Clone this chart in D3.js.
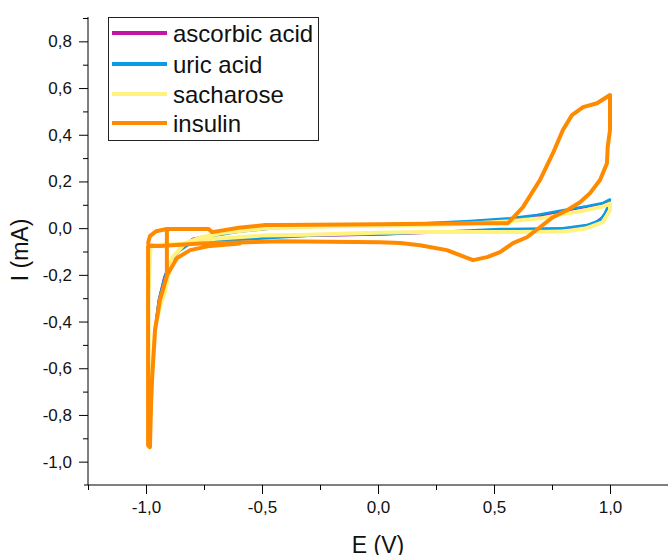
<!DOCTYPE html>
<html>
<head>
<meta charset="utf-8">
<script src="https://cdn.jsdelivr.net/npm/d3@7"></script>
<style>
  body { margin: 0; background: #fff; }
  svg { display: block; font-family: Arial, "Liberation Sans", sans-serif; }
</style>
</head>
<body>
<svg id="chart" width="668" height="555"></svg>
<script>
// Cyclic voltammograms, E (V) vs I (mA); each series is a list of path segments [[E, I], ...]
var seriesNames = ["ascorbic acid", "uric acid", "sacharose", "insulin"];
var seriesColors = ["#c414a4", "#0a9be4", "#fff27e", "#ff8a00"];

var ascorbicAcid = [
  [[-0.986, -0.94], [-0.976, -0.65], [-0.963, -0.44], [-0.946, -0.31], [-0.922, -0.21], [-0.897, -0.15],
   [-0.862, -0.1], [-0.8, -0.045], [-0.724, -0.03], [-0.6, -0.014], [-0.45, 0.0], [-0.2, 0.01],
   [0.1, 0.016], [0.4, 0.026], [0.6, 0.038], [0.7, 0.052], [0.8, 0.072], [0.9, 0.09], [0.97, 0.104], [1.0, 0.118],
   [0.99, 0.085], [0.97, 0.05], [0.93, 0.02], [0.85, 0.002], [0.6, -0.008], [0.3, -0.018], [0.0, -0.028],
   [-0.3, -0.034], [-0.543, -0.039], [-0.7, -0.05], [-0.85, -0.072], [-0.98, -0.075], [-0.99, -0.3], [-0.988, -0.93]],
  [[-0.75, -0.004], [-0.91, -0.004], [-0.957, -0.012], [-0.984, -0.032], [-0.992, -0.068], [-0.85, -0.073]]
];

var uricAcid = [
  [[-0.985, -0.94], [-0.975, -0.65], [-0.962, -0.44], [-0.945, -0.31], [-0.92, -0.21], [-0.895, -0.15],
   [-0.86, -0.1], [-0.8, -0.06], [-0.72, -0.035], [-0.6, -0.015], [-0.45, 0.0], [-0.2, 0.012],
   [0.18, 0.02], [0.397, 0.031], [0.569, 0.042], [0.685, 0.056], [0.797, 0.077], [0.9, 0.094], [0.97, 0.108], [1.0, 0.123],
   [0.991, 0.094], [0.978, 0.064], [0.957, 0.034], [0.9, 0.013], [0.797, 0.0], [0.526, -0.004], [0.3, -0.014],
   [0.02, -0.026], [-0.263, -0.03], [-0.41, -0.039], [-0.6, -0.05], [-0.8, -0.062], [-0.93, -0.072],
   [-0.985, -0.078], [-0.99, -0.3], [-0.988, -0.93]]
];

var sacharose = [
  [[-0.986, -0.94], [-0.976, -0.65], [-0.96, -0.42], [-0.935, -0.32], [-0.918, -0.274], [-0.888, -0.128],
   [-0.832, -0.064], [-0.759, -0.039], [-0.672, -0.021], [-0.487, 0.0], [-0.2, 0.008], [0.18, 0.012],
   [0.4, 0.02], [0.57, 0.03], [0.7, 0.042], [0.8, 0.06], [0.9, 0.078], [0.97, 0.093], [1.0, 0.105],
   [1.0, 0.077], [0.97, 0.026], [0.9, 0.0], [0.8, -0.014], [0.6, -0.017], [0.2, -0.017], [0.0, -0.02],
   [-0.3, -0.028], [-0.5, -0.032], [-0.7, -0.045], [-0.83, -0.066], [-0.98, -0.073], [-0.99, -0.3], [-0.988, -0.93]]
];

var insulin = [
  [[-0.91, -0.2], [-0.91, -0.004], [-0.73, -0.004], [-0.715, -0.017], [-0.6, 0.002], [-0.487, 0.013],
   [-0.42, 0.013], [0.01, 0.017], [0.44, 0.021], [0.56, 0.021], [0.625, 0.09], [0.698, 0.206], [0.754, 0.321],
   [0.797, 0.42], [0.836, 0.484], [0.884, 0.518], [0.944, 0.535], [1.0, 0.57], [1.0, 0.548], [1.0, 0.42],
   [0.99, 0.347], [0.987, 0.278], [0.957, 0.206], [0.914, 0.15], [0.871, 0.111], [0.815, 0.077], [0.754, 0.047],
   [0.698, 0.004], [0.642, -0.039], [0.582, -0.064], [0.526, -0.103], [0.47, -0.124], [0.41, -0.137],
   [0.353, -0.116], [0.297, -0.094], [0.181, -0.073], [0.095, -0.064], [0.009, -0.06], [-0.422, -0.056],
   [-0.767, -0.066], [-0.94, -0.076], [-0.991, -0.076], [-0.991, -0.93], [-0.983, -0.938], [-0.978, -0.75],
   [-0.974, -0.651], [-0.961, -0.437], [-0.94, -0.308], [-0.909, -0.201], [-0.866, -0.128], [-0.81, -0.094],
   [-0.724, -0.076], [-0.595, -0.066]],
  [[-0.991, -0.064], [-0.983, -0.034], [-0.957, -0.013], [-0.91, -0.004]]
];

var seriesData = [ascorbicAcid, uricAcid, sacharose, insulin];
var seriesWidths = [2, 2.5, 4, 4];

var xMajor = [-1.0, -0.5, 0.0, 0.5, 1.0];
var xMinor = [-1.25, -0.75, -0.25, 0.25, 0.75, 1.25];
var yMajor = [-1.0, -0.8, -0.6, -0.4, -0.2, 0.0, 0.2, 0.4, 0.6, 0.8];
var yMinor = [-0.9, -0.7, -0.5, -0.3, -0.1, 0.1, 0.3, 0.5, 0.7, 0.9];

var svg = d3.select("#chart");

// Scales
var x = d3.scaleLinear().domain([-1.25, 1.25]).range([88, 668]);
var y = d3.scaleLinear().domain([-1.1, 0.9]).range([485, 18]);

// decimal comma, plain hyphen minus
var locale = d3.formatLocale({decimal: ",", thousands: ".", grouping: [3], currency: ["", ""], minus: "-"});
var fmt = locale.format(".1f");

// Curves
var line = d3.line()
    .x(function (d) { return x(d[0]); })
    .y(function (d) { return y(d[1]); });

seriesData.forEach(function (segs, i) {
    svg.append("g")
        .selectAll("path")
        .data(segs)
        .enter().append("path")
        .attr("d", line)
        .attr("fill", "none")
        .attr("stroke", seriesColors[i])
        .attr("stroke-width", seriesWidths[i])
        .attr("stroke-linejoin", "round")
        .attr("stroke-linecap", "round");
});

// Y axis
var gy = svg.append("g").attr("transform", "translate(88,0)");
gy.call(d3.axisLeft(y).tickValues(yMajor).tickFormat(fmt).tickSize(9).tickSizeOuter(0).tickPadding(7));
gy.select(".domain").remove();
gy.selectAll("text").style("font-size", "17px").attr("fill", "#111");
var gyMinor = svg.append("g").attr("transform", "translate(88,0)");
gyMinor.call(d3.axisLeft(y).tickValues(yMinor).tickFormat("").tickSize(5).tickSizeOuter(0));
gyMinor.select(".domain").remove();

// X axis
var gx = svg.append("g").attr("transform", "translate(0,485)");
gx.call(d3.axisBottom(x).tickValues(xMajor).tickFormat(fmt).tickSize(9).tickSizeOuter(0).tickPadding(7));
gx.select(".domain").remove();
gx.selectAll("text").style("font-size", "17px").attr("fill", "#111");
var gxMinor = svg.append("g").attr("transform", "translate(0,485)");
gxMinor.call(d3.axisBottom(x).tickValues(xMinor).tickFormat("").tickSize(5).tickSizeOuter(0));
gxMinor.select(".domain").remove();

// axis lines
svg.append("line").attr("x1", 88).attr("x2", 88).attr("y1", 17).attr("y2", 485).attr("stroke", "#000");
svg.append("line").attr("x1", 84).attr("x2", 668).attr("y1", 485).attr("y2", 485).attr("stroke", "#000");

// Axis titles
svg.append("text")
    .attr("x", 378).attr("y", 553)
    .attr("text-anchor", "middle")
    .style("font-size", "23px")
    .attr("fill", "#111")
    .text("E (V)");
svg.append("text")
    .attr("transform", "translate(28,250) rotate(-90)")
    .attr("text-anchor", "middle")
    .style("font-size", "23px")
    .attr("fill", "#111")
    .text("I (mA)");

// Legend
svg.append("rect").attr("x", 108.5).attr("y", 17.5).attr("width", 210).attr("height", 123)
    .attr("fill", "#fff").attr("stroke", "#222").attr("stroke-width", 1);
var legendY = [33, 64, 94, 123];
seriesNames.forEach(function (name, i) {
    svg.append("line")
        .attr("x1", 112).attr("x2", 167)
        .attr("y1", legendY[i]).attr("y2", legendY[i])
        .attr("stroke", seriesColors[i]).attr("stroke-width", 4);
    svg.append("text")
        .attr("x", 173).attr("y", legendY[i])
        .attr("dominant-baseline", "central")
        .style("font-size", "24px")
        .attr("fill", "#111")
        .text(name);
});
</script>
</body>
</html>
